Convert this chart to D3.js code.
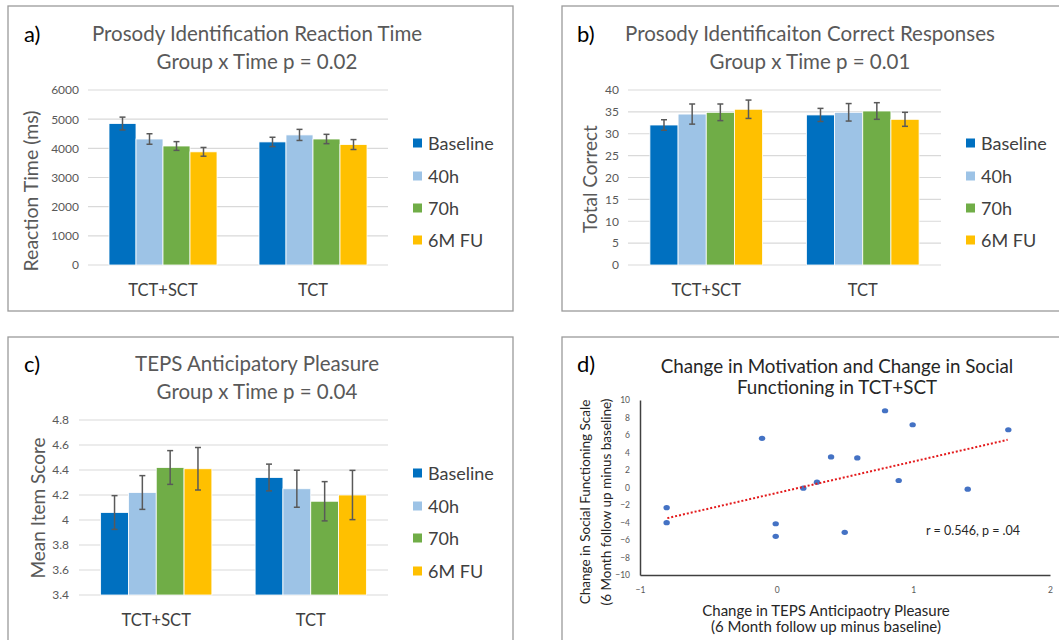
<!DOCTYPE html>
<html><head><meta charset="utf-8">
<script src="https://cdn.jsdelivr.net/npm/d3@7"></script>
<style>body{margin:0;background:#fff}svg{display:block;font-family:Lato,"Open Sans",sans-serif}</style>
</head><body><svg id="c" width="1059" height="640"></svg>
<script>
// ---------- data ----------
const groups = ["TCT+SCT", "TCT"];
const timepoints = ["Baseline", "40h", "70h", "6M FU"];

const rtMeans = [[4850, 4320, 4080, 3880], [4220, 4460, 4320, 4130]];
const rtErr   = [[220, 180, 150, 150], [160, 190, 160, 170]];
const rtTicks = [0, 1000, 2000, 3000, 4000, 5000, 6000];

const corrMeans = [[32.0, 34.5, 34.9, 35.6], [34.3, 34.9, 35.2, 33.3]];
const corrErr   = [[1.2, 2.3, 1.9, 2.1], [1.5, 2.0, 1.9, 1.6]];
const corrTicks = [0, 5, 10, 15, 20, 25, 30, 35, 40];

const tepsMeans = [[4.06, 4.22, 4.42, 4.41], [4.34, 4.25, 4.15, 4.20]];
const tepsErr   = [[0.135, 0.135, 0.135, 0.17], [0.107, 0.148, 0.157, 0.197]];
const tepsTicks = [3.4, 3.6, 3.8, 4, 4.2, 4.4, 4.6, 4.8];

const motivChange  = [-0.805, -0.805, -0.107, -0.007, -0.007, 0.195, 0.295, 0.398, 0.498, 0.590, 0.793, 0.893, 0.995, 1.398, 1.695];
const socialChange = [-2.31, -4.02, 5.62, -4.14, -5.58, -0.08, 0.61, 3.49, -5.12, 3.38, 8.77, 0.80, 7.17, -0.19, 6.60];
const trendX = [-0.8, 1.69];
const trendY = [-3.5, 5.45];
const scatterXTicks = [-1, 0, 1, 2];
const scatterYTicks = [-10, -8, -6, -4, -2, 0, 2, 4, 6, 8, 10];

// ---------- drawing ----------
const svg = d3.select("#c");
svg.append("rect").attr("width", 1059).attr("height", 640).attr("fill", "#fff");
const color = d3.scaleOrdinal().domain(timepoints).range(["#0070C0", "#9DC3E6", "#70AD47", "#FFC000"]);

function frame(x, y, w, h) {
  svg.append("rect").attr("x", x).attr("y", y).attr("width", w).attr("height", h)
    .attr("fill", "none").attr("stroke", "#9a9a9a").attr("stroke-width", 1.3);
}
function txt(x, y, s, size, fill, anchor) {
  return svg.append("text").attr("x", x).attr("y", y).attr("font-size", size)
    .attr("fill", fill).attr("text-anchor", anchor || "middle").attr("dominant-baseline", "central").text(s);
}

function barPanel(o) {
  frame(o.box[0], o.box[1], o.box[2], o.box[3]);
  txt(o.letter[0], o.letter[1], o.letterText, 22, "#000", "start");
  txt(o.titleX, o.titleY[0], o.title[0], 20.5, "#595959");
  txt(o.titleX, o.titleY[1], o.title[1], 20.5, "#595959");
  const y = d3.scaleLinear().domain(o.domain).range([o.yr[0], o.yr[1]]);
  const x0 = d3.scaleBand().domain(groups).range(o.xr).paddingInner(0.28).paddingOuter(0.14);
  const x1 = d3.scaleBand().domain(timepoints).range([0, x0.bandwidth()]);
  const g = svg.append("g");
  // gridlines
  g.selectAll("line.grid").data(o.ticks).join("line")
    .attr("x1", o.xr[0]).attr("x2", o.xr[1]).attr("y1", d => y(d)).attr("y2", d => y(d))
    .attr("stroke", "#d9d9d9").attr("stroke-width", 1.2);
  // y axis labels
  const ax = d3.axisLeft(y).tickValues(o.ticks).tickSize(0).tickPadding(0).tickFormat(d3.format(o.fmt));
  const ag = svg.append("g").attr("transform", `translate(${o.tickX},0)`).call(ax);
  ag.select(".domain").remove();
  ag.selectAll("text").attr("font-size", 12).attr("fill", "#595959").attr("font-family", "Lato");
  // bars
  groups.forEach((grp, gi) => {
    timepoints.forEach((tp, ti) => {
      const v = o.means[gi][ti], e = o.err[gi][ti];
      const bx = x0(grp) + x1(tp);
      g.append("rect").attr("x", bx).attr("y", y(v)).attr("width", x1.bandwidth())
        .attr("height", y(o.domain[0]) - y(v)).attr("fill", color(tp))
        .attr("stroke", "#fff").attr("stroke-width", 0.8);
      const cx = bx + x1.bandwidth() / 2;
      const eg = g.append("g").attr("stroke", "#595959").attr("stroke-width", 1.5);
      eg.append("line").attr("x1", cx).attr("x2", cx).attr("y1", y(v - e)).attr("y2", y(v + e));
      eg.append("line").attr("x1", cx - 3).attr("x2", cx + 3).attr("y1", y(v - e)).attr("y2", y(v - e));
      eg.append("line").attr("x1", cx - 3).attr("x2", cx + 3).attr("y1", y(v + e)).attr("y2", y(v + e));
    });
    txt(x0(grp) + x0.bandwidth() / 2, o.catY, grp, 16.5, "#404040");
  });
  // y title
  svg.append("text").attr("transform", `translate(${o.yTitle[0]},${o.yTitle[1]}) rotate(-90)`)
    .attr("text-anchor", "middle").attr("dominant-baseline", "central")
    .attr("font-size", o.yTitleSize).attr("fill", "#595959").text(o.yTitleText);
  // legend
  timepoints.forEach((tp, i) => {
    const ly = o.legY[i];
    svg.append("rect").attr("x", o.legX).attr("y", ly - 4.5).attr("width", 9).attr("height", 9).attr("fill", color(tp));
    txt(o.legX + 15, ly, tp, 18, "#404040", "start");
  });
}

barPanel({
  box: [8, 6, 505, 305], letter: [24, 33], letterText: "a)",
  title: ["Prosody Identification Reaction Time", "Group x Time p = 0.02"], titleX: 257, titleY: [33, 61],
  domain: [0, 6000], yr: [265, 90], xr: [88, 388], ticks: rtTicks, fmt: "d", tickX: 79,
  means: rtMeans, err: rtErr, catY: 290, yTitle: [30, 191], yTitleText: "Reaction Time (ms)", yTitleSize: 19.5,
  legX: 413, legY: [143, 176, 208, 240]
});
barPanel({
  box: [562, 6, 520, 305], letter: [577, 33], letterText: "b)",
  title: ["Prosody Identificaiton Correct Responses", "Group x Time p = 0.01"], titleX: 810, titleY: [33, 61],
  domain: [0, 40], yr: [265, 90], xr: [628, 941], ticks: corrTicks, fmt: "d", tickX: 619,
  means: corrMeans, err: corrErr, catY: 290, yTitle: [589, 179], yTitleText: "Total Correct", yTitleSize: 19,
  legX: 966, legY: [143, 176, 208, 240]
});
barPanel({
  box: [8, 337, 505, 320], letter: [24, 363], letterText: "c)",
  title: ["TEPS Anticipatory Pleasure", "Group x Time p = 0.04"], titleX: 257, titleY: [363, 391],
  domain: [3.4, 4.8], yr: [595, 420], xr: [79, 388], ticks: tepsTicks, fmt: "", tickX: 69,
  means: tepsMeans, err: tepsErr, catY: 620, yTitle: [37, 508], yTitleText: "Mean Item Score", yTitleSize: 19,
  legX: 413, legY: [473, 506, 538, 571]
});

// ---------- panel d: scatter ----------
frame(562, 337, 520, 320);
txt(577, 363, "d)", 22, "#000", "start");
txt(837, 365, "Change in Motivation and Change in Social", 18.8, "#262626");
txt(837, 386, "Functioning in TCT+SCT", 18.8, "#262626");
const sx = d3.scaleLinear().domain([-1, 2]).range([640, 1050]);
const sy = d3.scaleLinear().domain([-10, 10]).range([575, 400]);
const xa = svg.append("g").attr("transform", "translate(0,575)")
  .call(d3.axisBottom(sx).tickValues(scatterXTicks).tickSize(0).tickPadding(12).tickFormat(d3.format("d")));
xa.select(".domain").attr("stroke", "#404040").attr("stroke-width", 1.5);
xa.selectAll("text").attr("font-size", 8.5).attr("fill", "#595959").attr("font-family", "Lato");
const ya = svg.append("g").attr("transform", "translate(640,0)")
  .call(d3.axisLeft(sy).tickValues(scatterYTicks).tickSize(0).tickPadding(10).tickFormat(d3.format("d")));
ya.select(".domain").attr("stroke", "#404040").attr("stroke-width", 1.5);
ya.selectAll("text").attr("font-size", 8.5).attr("fill", "#595959").attr("font-family", "Lato");
svg.append("g").selectAll("ellipse").data(motivChange).join("ellipse")
  .attr("cx", (d) => sx(d)).attr("cy", (d, i) => sy(socialChange[i]))
  .attr("rx", 3.2).attr("ry", 2.6).attr("fill", "#4472C4");
svg.append("line").attr("x1", sx(trendX[0])).attr("y1", sy(trendY[0]))
  .attr("x2", sx(trendX[1])).attr("y2", sy(trendY[1]))
  .attr("stroke", "#E31A1C").attr("stroke-width", 2).attr("stroke-dasharray", "2,2");
txt(926, 530, "r = 0.546, p = .04", 12.5, "#262626", "start");
svg.append("text").attr("transform", "translate(585,502) rotate(-90)").attr("text-anchor", "middle")
  .attr("dominant-baseline", "central").attr("font-size", 13.5).attr("fill", "#262626")
  .text("Change in Social Functioning Scale");
svg.append("text").attr("transform", "translate(606,502) rotate(-90)").attr("text-anchor", "middle")
  .attr("dominant-baseline", "central").attr("font-size", 13.5).attr("fill", "#262626")
  .text("(6 Month follow up minus baseline)");
txt(826, 610, "Change in TEPS Anticipaotry Pleasure", 15, "#262626");
txt(826, 626, "(6 Month follow up minus baseline)", 15, "#262626");
</script></body></html>
